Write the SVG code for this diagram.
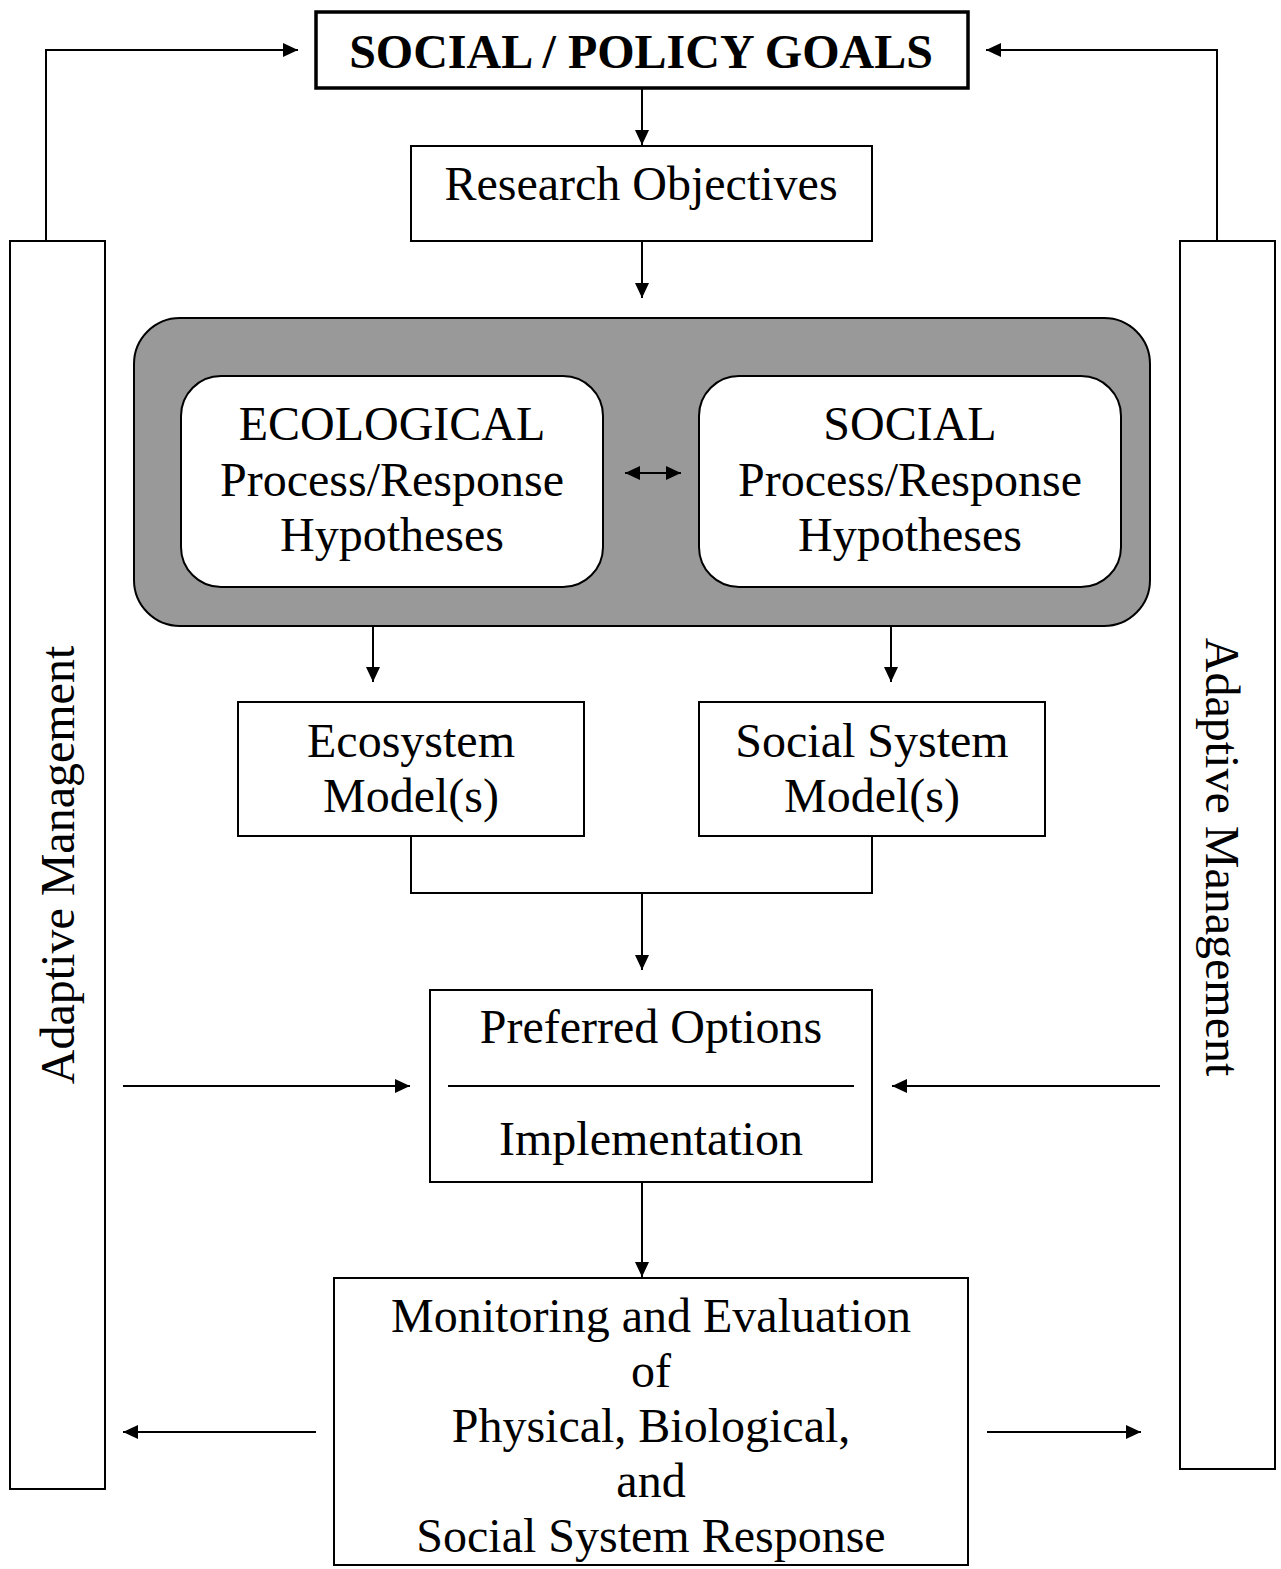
<svg xmlns="http://www.w3.org/2000/svg" width="1281" height="1569" viewBox="0 0 1281 1569">
  <style>
    .box { fill: #fff; stroke: #000; stroke-width: 2; }
    .t { font-family: "Liberation Serif", "Times New Roman", serif; font-size: 48px; fill: #000; text-anchor: middle; }
    .c { fill: none; stroke: #000; stroke-width: 2; }
  </style>
  <defs>
    <marker id="ah" markerUnits="userSpaceOnUse" markerWidth="16" markerHeight="14" refX="15" refY="7" orient="auto">
      <path d="M0,0 L15,7 L0,14 Z" fill="#000"/>
    </marker>
    <marker id="ahs" markerUnits="userSpaceOnUse" markerWidth="16" markerHeight="14" refX="0" refY="7" orient="auto">
      <path d="M15,0 L0,7 L15,14 Z" fill="#000"/>
    </marker>
  </defs>

  <rect width="1281" height="1569" fill="#fff"/>

  <g id="goals">
    <rect x="316" y="12" width="652" height="76" fill="#fff" stroke="#000" stroke-width="3.5"/>
    <text class="t" x="641" y="68" font-weight="bold" font-size="46.5">SOCIAL / POLICY GOALS</text>
  </g>

  <g id="objectives">
    <rect class="box" x="411" y="146" width="461" height="95"/>
    <text class="t" x="641" y="200">Research Objectives</text>
  </g>

  <g id="hypotheses">
    <rect x="134" y="318" width="1016" height="308" rx="46" fill="#999" stroke="#000" stroke-width="2"/>
    <g id="ecological">
      <rect class="box" x="181" y="376" width="422" height="211" rx="40"/>
      <text class="t" x="392" y="440">ECOLOGICAL</text>
      <text class="t" x="392" y="496">Process/Response</text>
      <text class="t" x="392" y="551">Hypotheses</text>
    </g>
    <g id="social">
      <rect class="box" x="699" y="376" width="422" height="211" rx="40"/>
      <text class="t" x="910" y="440">SOCIAL</text>
      <text class="t" x="910" y="496">Process/Response</text>
      <text class="t" x="910" y="551">Hypotheses</text>
    </g>
  </g>

  <g id="ecosystem-model">
    <rect class="box" x="238" y="702" width="346" height="134"/>
    <text class="t" x="411" y="757">Ecosystem</text>
    <text class="t" x="411" y="812">Model(s)</text>
  </g>

  <g id="social-model">
    <rect class="box" x="699" y="702" width="346" height="134"/>
    <text class="t" x="872" y="757">Social System</text>
    <text class="t" x="872" y="812">Model(s)</text>
  </g>

  <g id="options">
    <rect class="box" x="430" y="990" width="442" height="192"/>
    <line x1="448" y1="1086" x2="854" y2="1086" stroke="#000" stroke-width="2"/>
    <text class="t" x="651" y="1043">Preferred Options</text>
    <text class="t" x="651" y="1155">Implementation</text>
  </g>

  <g id="monitoring">
    <rect class="box" x="334" y="1278" width="634" height="287"/>
    <text class="t" x="651" y="1332">Monitoring and Evaluation</text>
    <text class="t" x="651" y="1387">of</text>
    <text class="t" x="651" y="1442">Physical, Biological,</text>
    <text class="t" x="651" y="1497">and</text>
    <text class="t" x="651" y="1552">Social System Response</text>
  </g>

  <g id="adaptive-left">
    <rect class="box" x="10" y="241" width="95" height="1248"/>
    <text class="t" transform="translate(74,865) rotate(-90)">Adaptive Management</text>
  </g>

  <g id="adaptive-right">
    <rect class="box" x="1180" y="241" width="95" height="1228"/>
    <text class="t" transform="translate(1206,857) rotate(90)">Adaptive Management</text>
  </g>

  <!-- connectors, drawn last so they sit above the box fills -->
  <g id="connectors">
    <path class="c" d="M46,241 V50 H298" marker-end="url(#ah)"/>
    <path class="c" d="M1217,241 V50 H986" marker-end="url(#ah)"/>
    <path class="c" d="M642,89 V145" marker-end="url(#ah)"/>
    <path class="c" d="M642,241 V298" marker-end="url(#ah)"/>
    <path class="c" d="M625,473 H681" marker-start="url(#ahs)" marker-end="url(#ah)"/>
    <path class="c" d="M373,627 V682" marker-end="url(#ah)"/>
    <path class="c" d="M891,627 V682" marker-end="url(#ah)"/>
    <path class="c" d="M411,836 V893 H872 V836"/>
    <path class="c" d="M642,893 V970" marker-end="url(#ah)"/>
    <path class="c" d="M123,1086 H410" marker-end="url(#ah)"/>
    <path class="c" d="M1160,1086 H892" marker-end="url(#ah)"/>
    <path class="c" d="M642,1182 V1277" marker-end="url(#ah)"/>
    <path class="c" d="M316,1432 H123" marker-end="url(#ah)"/>
    <path class="c" d="M987,1432 H1141" marker-end="url(#ah)"/>
  </g>
</svg>
